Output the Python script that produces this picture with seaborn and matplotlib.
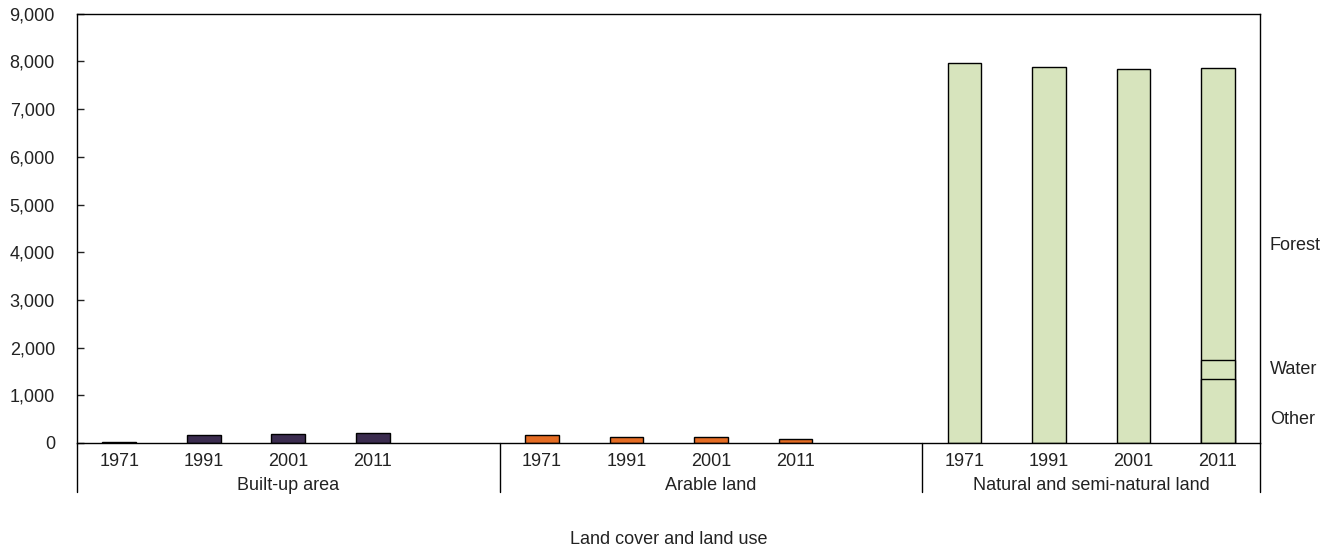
import pandas as pd
import matplotlib.pyplot as plt
import seaborn as sns
from matplotlib.ticker import FuncFormatter, MultipleLocator

# === DATA ===
groups = ["Built-up area", "Arable land", "Natural and semi-natural land"]
years = ["1971", "1991", "2001", "2011"]
built_up = [20, 160, 190, 210]
arable = [175, 118, 118, 84]
natural = [7970, 7875, 7845, 7860]
# 2011 breakdown of natural land
natural_2011_other = 1350
natural_2011_water = 380
colors = {"Built-up area": "#3B2C4F", "Arable land": "#E46C23",
          "Natural and semi-natural land": "#D7E4BD"}

rows = []
for g, vals in zip(groups, [built_up, arable, natural]):
    for y, v in zip(years, vals):
        rows.append({"slot": f"{g}|{y}", "group": g, "year": y, "value": v})
df = pd.DataFrame(rows)

# slots, with one empty slot between groups
order = []
for i, g in enumerate(groups):
    order += [f"{g}|{y}" for y in years]
    if i < len(groups) - 1:
        order.append(f"gap{i}")
tick_labels = [s.split("|")[1] if "|" in s else "" for s in order]

# === PLOTTING ===
sns.set_theme(style="white")
plt.rcParams["font.family"] = ["Liberation Sans", "DejaVu Sans"]
FS = 13
TXT = "#222222"

fig = plt.figure(figsize=(13.3, 5.52), dpi=100)
ax = fig.add_axes([0.058, 0.1975, 0.8895, 0.7775])

bar_kw = dict(order=order, hue="group", palette=colors, dodge=False, width=0.4,
              saturation=1, edgecolor="black", linewidth=1, legend=False, ax=ax)
sns.barplot(data=df, x="slot", y="value", **bar_kw)

# stacked segments in the 2011 natural bar
last = df[(df["group"] == groups[2]) & (df["year"] == "2011")].copy()
for h in [natural_2011_other + natural_2011_water, natural_2011_other]:
    seg = last.assign(value=h)
    sns.barplot(data=seg, x="slot", y="value", **bar_kw)

ax.set_xlim(-0.5, len(order) - 0.5)
ax.set_ylim(0, 9000)
ax.yaxis.set_major_locator(MultipleLocator(1000))
ax.yaxis.set_major_formatter(FuncFormatter(lambda v, p: f"{int(v):,}"))
ax.set_xticks(range(len(order)))
ax.set_xticklabels(tick_labels)
ax.tick_params(axis="x", length=0, pad=7, labelsize=FS, colors=TXT)
ax.tick_params(axis="y", direction="in", length=5, width=1, pad=16, labelsize=FS,
               colors=TXT, left=True)
ax.set_xlabel("")
ax.set_ylabel("")
for s in ax.spines.values():
    s.set_color("black")
    s.set_linewidth(1)
    s.set_visible(True)

# group separators and labels under the axis
trans = ax.get_xaxis_transform()
for x in [-0.5, 4.5, 9.5, len(order) - 0.5]:
    ax.plot([x, x], [0, -0.115], transform=trans, color="black", lw=1, clip_on=False)
group_centres = [2, 7, 11.5]
for g, c in zip(groups, group_centres):
    ax.text(c, -0.1, g, transform=trans, ha="center", va="center", fontsize=FS,
            color=TXT)
ax.text(0.5, -0.226, "Land cover and land use", transform=ax.transAxes,
        ha="center", va="center", fontsize=FS, color=TXT)

# component labels at the right
rtrans = ax.get_yaxis_transform()
for lab, yv in [("Forest", 4150), ("Water", 1540), ("Other", 500)]:
    ax.text(1.008, yv, lab, transform=rtrans, ha="left", va="center", fontsize=FS,
            color=TXT)

plt.savefig("out.png", dpi=100)
